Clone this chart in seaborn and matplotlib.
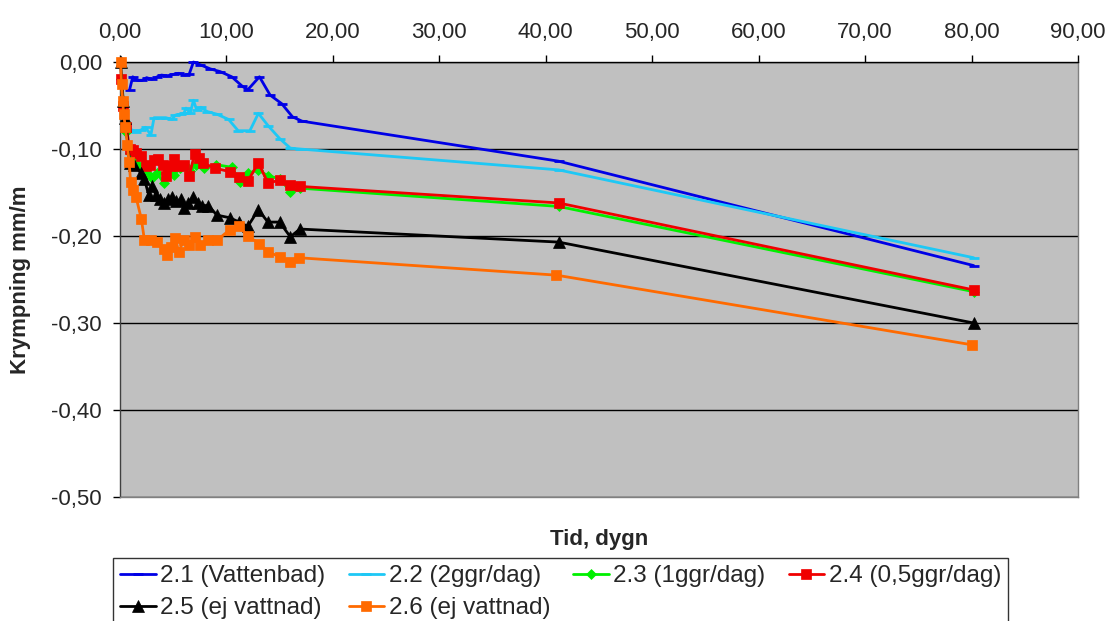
import matplotlib
matplotlib.use("Agg")
import matplotlib.pyplot as plt
from matplotlib.ticker import FuncFormatter
import seaborn as sns
import pandas as pd

# Time (days) and shrinkage (mm/m) per specimen
t_21 = [0.9, 1.2, 1.6, 2.1, 2.5, 3.0, 3.5, 3.9, 4.4, 5.1, 5.5, 6.1, 6.5, 6.9, 7.5,
        8.5, 9.4, 10.5, 11.5, 12.0, 13.1, 14.1, 15.2, 16.2, 17.1, 41.2, 80.2]
v_21 = [-0.032, -0.017, -0.021, -0.021, -0.018, -0.020, -0.017, -0.015, -0.016,
        -0.014, -0.013, -0.015, -0.014, 0.000, -0.003, -0.008, -0.011, -0.017,
        -0.028, -0.032, -0.017, -0.038, -0.048, -0.063, -0.068, -0.114, -0.234]

t_22 = [1.1, 1.5, 2.0, 2.4, 2.9, 3.2, 3.8, 4.3, 4.9, 5.2, 5.7, 6.0, 6.2, 6.6, 6.9,
        7.2, 7.6, 8.2, 9.1, 10.2, 11.1, 12.2, 13.0, 13.9, 15.0, 16.0, 16.9, 41.2, 80.2]
v_22 = [-0.078, -0.080, -0.078, -0.075, -0.084, -0.064, -0.064, -0.064, -0.066,
        -0.061, -0.060, -0.059, -0.053, -0.059, -0.044, -0.055, -0.052, -0.057,
        -0.060, -0.066, -0.079, -0.079, -0.059, -0.073, -0.088, -0.099, -0.100,
        -0.124, -0.225]

t_23 = [0.1, 0.3, 0.6, 0.9, 1.3, 1.7, 2.1, 2.5, 3.0, 3.5, 4.1, 4.6, 5.1, 5.6, 6.2,
        6.6, 7.1, 7.9, 9.0, 10.5, 11.3, 12.0, 13.0, 13.9, 15.0, 16.0, 16.9, 41.2, 80.2]
v_23 = [-0.020, -0.050, -0.080, -0.105, -0.110, -0.118, -0.120, -0.128, -0.133,
        -0.128, -0.139, -0.128, -0.130, -0.122, -0.120, -0.125, -0.118, -0.122,
        -0.118, -0.121, -0.138, -0.128, -0.124, -0.131, -0.134, -0.149, -0.145,
        -0.166, -0.264]

t_24 = [0.1, 0.3, 0.6, 0.9, 1.2, 1.5, 2.0, 2.4, 2.8, 3.2, 3.6, 4.0, 4.3, 4.7, 5.1,
        5.5, 6.0, 6.5, 7.0, 7.4, 7.8, 8.9, 10.3, 11.2, 12.0, 13.0, 13.9, 15.0, 16.0,
        16.9, 41.2, 80.2]
v_24 = [-0.020, -0.050, -0.075, -0.100, -0.101, -0.105, -0.108, -0.120, -0.118,
        -0.113, -0.112, -0.118, -0.131, -0.120, -0.112, -0.120, -0.118, -0.131,
        -0.106, -0.110, -0.116, -0.122, -0.126, -0.132, -0.137, -0.116, -0.139,
        -0.136, -0.141, -0.143, -0.162, -0.262]

t_25 = [0.05, 0.3, 0.5, 0.9, 1.3, 2.0, 2.3, 2.7, 3.0, 3.4, 3.8, 4.1, 4.5, 4.9, 5.3,
        5.7, 6.0, 6.4, 6.9, 7.3, 7.7, 8.3, 9.1, 10.3, 11.2, 12.0, 13.0, 13.9, 15.0,
        16.0, 16.9, 41.2, 80.2]
v_25 = [0.000, -0.045, -0.064, -0.116, -0.118, -0.128, -0.135, -0.153, -0.143,
        -0.153, -0.158, -0.162, -0.158, -0.155, -0.160, -0.158, -0.168, -0.162,
        -0.155, -0.162, -0.165, -0.165, -0.176, -0.179, -0.184, -0.189, -0.170,
        -0.184, -0.184, -0.201, -0.192, -0.207, -0.300]

t_26 = [0.05, 0.15, 0.25, 0.35, 0.5, 0.7, 0.85, 1.0, 1.2, 1.5, 2.0, 2.3, 2.9, 3.5,
        4.1, 4.4, 4.8, 5.2, 5.5, 6.0, 6.5, 7.0, 7.5, 8.3, 9.1, 10.3, 11.2, 12.0,
        13.1, 13.9, 15.0, 16.0, 16.8, 41.0, 80.0]
v_26 = [0.000, -0.025, -0.045, -0.060, -0.075, -0.095, -0.115, -0.138, -0.147,
        -0.155, -0.180, -0.205, -0.205, -0.207, -0.215, -0.222, -0.213, -0.202,
        -0.218, -0.205, -0.210, -0.201, -0.210, -0.205, -0.205, -0.193, -0.189,
        -0.200, -0.209, -0.218, -0.224, -0.230, -0.225, -0.245, -0.325]

labels = ["2.1 (Vattenbad)", "2.2 (2ggr/dag)", "2.3 (1ggr/dag)",
          "2.4 (0,5ggr/dag)", "2.5 (ej vattnad)", "2.6 (ej vattnad)"]

x_ticks = [0, 10, 20, 30, 40, 50, 60, 70, 80, 90]
y_ticks = [0.0, -0.1, -0.2, -0.3, -0.4, -0.5]

# (times, values, colour, marker, marker size)
series = [
    (t_21, v_21, "#0000E6", "_", 7),
    (t_22, v_22, "#1EC8F5", "_", 7),
    (t_23, v_23, "#00F000", "D", 5),
    (t_24, v_24, "#F00000", "s", 7),
    (t_25, v_25, "#000000", "^", 8),
    (t_26, v_26, "#FF6A00", "s", 7),
]

sns.set_theme(style="white")
plt.rcParams["font.family"] = ["Liberation Sans", "DejaVu Sans"]

fig = plt.figure(figsize=(11.05, 6.21), dpi=100)
ax = fig.add_axes([120 / 1105, 1 - 497 / 621, 958 / 1105, 435 / 621])
ax.set_facecolor("#C0C0C0")

for (t, v, col, mk, ms), lab in zip(series, labels):
    df = pd.DataFrame({"t": t, "v": v})
    sns.lineplot(data=df, x="t", y="v", ax=ax, color=col, marker=mk,
                 markersize=ms, markeredgecolor=col,
                 markeredgewidth=2 if mk == "_" else 0.5,
                 linewidth=2, sort=False, estimator=None, label=lab,
                 zorder=3, clip_on=False)

ax.set_xlim(0, 90)
ax.set_ylim(-0.5, 0.0)
ax.set_xticks(x_ticks)
ax.set_yticks(y_ticks)
fmt = FuncFormatter(lambda val, pos: f"{val:.2f}".replace(".", ",").replace("-0,00", "0,00"))
ax.xaxis.set_major_formatter(fmt)
ax.yaxis.set_major_formatter(fmt)
ax.xaxis.tick_top()
ax.tick_params(axis="x", which="both", top=True, bottom=False, direction="out",
               length=5, width=1, color="black", labelsize=16, pad=9)
ax.tick_params(axis="y", left=True, direction="out", length=5, width=1,
               color="black", labelsize=16, pad=8)
ax.yaxis.grid(True, color="black", linewidth=1)
ax.xaxis.grid(False)
ax.set_axisbelow(True)
for name, sp in ax.spines.items():
    sp.set_visible(True)
    sp.set_linewidth(1)
    sp.set_color("#808080" if name in ("right", "bottom") else "black")
ax.spines["left"].set_color("#404040")

ax.set_xlabel("")
ax.set_ylabel("")
fig.text(21 / 1105, 1 - 280 / 621, "Krympning mm/m", rotation=90, ha="center",
         va="center", fontsize=16, fontweight="bold")
fig.text(599 / 1105, 1 - 540 / 621, "Tid, dygn", ha="center", va="center",
         fontsize=16, fontweight="bold")

h, l = ax.get_legend_handles_labels()
ax.get_legend().remove()
order = [0, 4, 1, 5, 2, 3]
leg = fig.legend([h[i] for i in order], [l[i] for i in order], ncol=4,
                 loc="upper left", bbox_to_anchor=(113 / 1105, 1 - 558 / 621),
                 frameon=True, fancybox=False, edgecolor="black", fontsize=17.5,
                 handlelength=1.45, handletextpad=0.2, columnspacing=0.95,
                 borderpad=0.3, labelspacing=0.4, borderaxespad=0)
leg.get_frame().set_linewidth(1)

fig.savefig("out.png", dpi=100, facecolor="white")
